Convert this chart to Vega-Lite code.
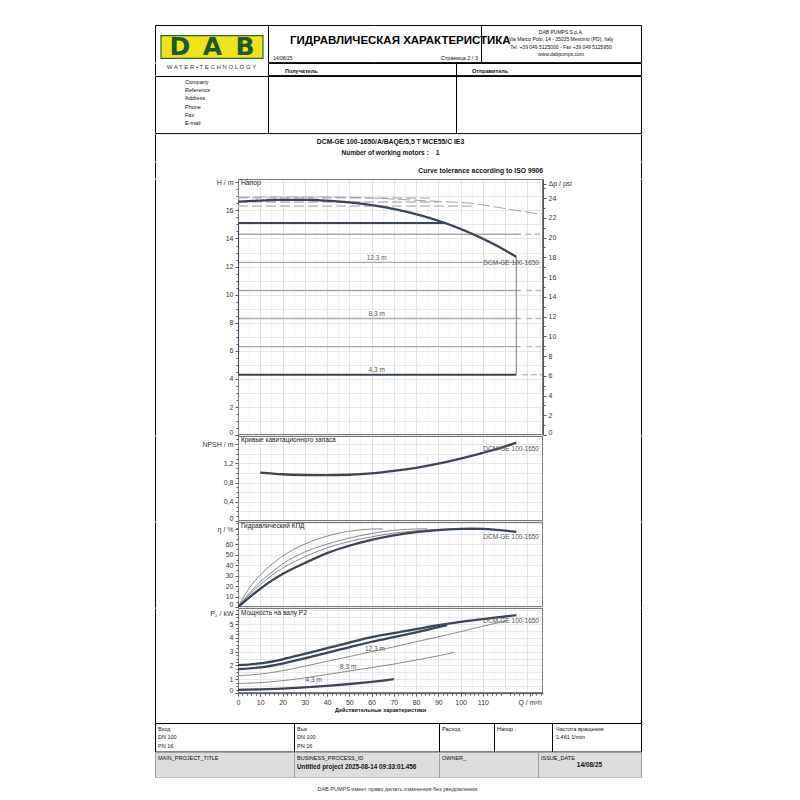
{
"$schema":"https://vega.github.io/schema/vega-lite/v6.json",
"background":"white",
"padding":{"left":154,"top":24,"right":0,"bottom":0},
"spacing":-2,
"bounds":"full",
"config":{
 "font":"Liberation Sans",
 "view":{"stroke":null},
 "axis":{"labelFont":"Liberation Sans","labelFontSize":7,"labelColor":"#333333","tickColor":"#555555","domainColor":"#555555","labelPadding":2,"labelOverlap":false,"labelFlush":false,"labelBound":false,"tickSize":3},
 "title":{"font":"Liberation Sans","color":"#111111","subtitleFont":"Liberation Sans","subtitleColor":"#111111","frame":"group","fontWeight":"normal"},
 "text":{"font":"Liberation Sans"}
},
"datasets":{
 "hSeg":[
  {"s":"g143","k":"sys","Q":0,"v":14.3},{"s":"g143","k":"sys","Q":127,"v":14.3},
  {"s":"g123","k":"sys","Q":0,"v":12.3},{"s":"g123","k":"sys","Q":127,"v":12.3},
  {"s":"g103","k":"sys","Q":0,"v":10.3},{"s":"g103","k":"sys","Q":127,"v":10.3},
  {"s":"g83","k":"sys","Q":0,"v":8.3},{"s":"g83","k":"sys","Q":127,"v":8.3},
  {"s":"g63","k":"sys","Q":0,"v":6.3},{"s":"g63","k":"sys","Q":127,"v":6.3},
  {"s":"d143","k":"ext","Q":129,"v":14.3},{"s":"d143","k":"ext","Q":136.5,"v":14.3},
  {"s":"d123","k":"ext","Q":129,"v":12.3},{"s":"d123","k":"ext","Q":136.5,"v":12.3},
  {"s":"d103","k":"ext","Q":129.5,"v":10.3},{"s":"d103","k":"ext","Q":136.5,"v":10.3},
  {"s":"d83","k":"ext","Q":129.5,"v":8.3},{"s":"d83","k":"ext","Q":136.5,"v":8.3},
  {"s":"d63","k":"ext","Q":129.5,"v":6.3},{"s":"d63","k":"ext","Q":136.5,"v":6.3},
  {"s":"d43","k":"ext","Q":127.5,"v":4.3},{"s":"d43","k":"ext","Q":136.5,"v":4.3},
  {"s":"br","k":"lim","Q":125,"v":4.3},{"s":"br","k":"lim","Q":125,"v":12.69},
  {"s":"bt","k":"op","Q":0,"v":15.1},{"s":"bt","k":"op","Q":93,"v":15.1},
  {"s":"bl","k":"op","Q":0,"v":4.3},{"s":"bl","k":"op","Q":0,"v":15.1},
  {"s":"bb","k":"op","Q":0,"v":4.3},{"s":"bb","k":"op","Q":125,"v":4.3}
 ],
 "hCur":[
  {"s":"tolA","k":"band","Q":0,"v":16.9},{"s":"tolA","k":"band","Q":44,"v":16.9},{"s":"tolA","k":"band","Q":88,"v":16.87},
  {"s":"tolB","k":"band","Q":0,"v":16.6},{"s":"tolB","k":"band","Q":45,"v":16.6},{"s":"tolB","k":"band","Q":90,"v":16.6},
  {"s":"tolC","k":"band","Q":0,"v":16.3},{"s":"tolC","k":"band","Q":52,"v":16.3},{"s":"tolC","k":"band","Q":105,"v":16.3},
  {"s":"tolUp","k":"tol","Q":0,"v":16.93},{"s":"tolUp","k":"tol","Q":20,"v":16.96},{"s":"tolUp","k":"tol","Q":40,"v":16.95},{"s":"tolUp","k":"tol","Q":60,"v":16.88},{"s":"tolUp","k":"tol","Q":73,"v":16.78},{"s":"tolUp","k":"tol","Q":90,"v":16.64},{"s":"tolUp","k":"tol","Q":104,"v":16.52},{"s":"tolUp","k":"tol","Q":120,"v":16.13},{"s":"tolUp","k":"tol","Q":137,"v":15.7},
  {"s":"main","k":"pump","Q":0,"v":16.62},{"s":"main","k":"pump","Q":10,"v":16.7},{"s":"main","k":"pump","Q":20,"v":16.75},{"s":"main","k":"pump","Q":30,"v":16.75},{"s":"main","k":"pump","Q":40,"v":16.69},{"s":"main","k":"pump","Q":50,"v":16.57},{"s":"main","k":"pump","Q":60,"v":16.38},{"s":"main","k":"pump","Q":70,"v":16.1},{"s":"main","k":"pump","Q":80,"v":15.73},{"s":"main","k":"pump","Q":90,"v":15.26},{"s":"main","k":"pump","Q":100,"v":14.68},{"s":"main","k":"pump","Q":110,"v":13.98},{"s":"main","k":"pump","Q":115,"v":13.59},{"s":"main","k":"pump","Q":120,"v":13.16},{"s":"main","k":"pump","Q":125,"v":12.69}
 ],
 "hTitle":[{"Q":1.3,"v":17.95,"t":"Напор"}],
 "hAnn":[{"Q":62.3,"v":12.6,"t":"12,3 m"},{"Q":62.3,"v":8.6,"t":"8,3 m"},{"Q":62.3,"v":4.63,"t":"4,3 m"},{"Q":122.7,"v":12.27,"t":"DCM-GE 100-1650"}],
 "nLine":[
  {"s":"npsh","k":"pump","Q":10,"v":1.01},{"s":"npsh","k":"pump","Q":20,"v":0.975},{"s":"npsh","k":"pump","Q":30,"v":0.96},{"s":"npsh","k":"pump","Q":40,"v":0.955},{"s":"npsh","k":"pump","Q":50,"v":0.965},{"s":"npsh","k":"pump","Q":60,"v":0.995},{"s":"npsh","k":"pump","Q":70,"v":1.045},{"s":"npsh","k":"pump","Q":80,"v":1.11},{"s":"npsh","k":"pump","Q":90,"v":1.195},{"s":"npsh","k":"pump","Q":100,"v":1.3},{"s":"npsh","k":"pump","Q":110,"v":1.42},{"s":"npsh","k":"pump","Q":120,"v":1.555},{"s":"npsh","k":"pump","Q":125,"v":1.635}
 ],
 "nTitle":[{"Q":1.3,"v":1.68,"t":"Кривые кавитационного запаса"}],
 "nAnn":[{"Q":122.7,"v":1.51,"t":"DCM-GE 100-1650"}],
 "eLine":[
  {"s":"e1","k":"part","Q":0,"v":0},{"s":"e1","k":"part","Q":5,"v":18},{"s":"e1","k":"part","Q":10,"v":30.5},{"s":"e1","k":"part","Q":15,"v":40.5},{"s":"e1","k":"part","Q":20,"v":48.5},{"s":"e1","k":"part","Q":25,"v":55},{"s":"e1","k":"part","Q":30,"v":60},{"s":"e1","k":"part","Q":35,"v":64.3},{"s":"e1","k":"part","Q":40,"v":67.6},{"s":"e1","k":"part","Q":45,"v":70.4},{"s":"e1","k":"part","Q":50,"v":72.4},{"s":"e1","k":"part","Q":55,"v":73.7},{"s":"e1","k":"part","Q":60,"v":74.4},{"s":"e1","k":"part","Q":65,"v":74.6},
  {"s":"e2","k":"part","Q":0,"v":0},{"s":"e2","k":"part","Q":5,"v":13},{"s":"e2","k":"part","Q":10,"v":24},{"s":"e2","k":"part","Q":15,"v":33},{"s":"e2","k":"part","Q":20,"v":41},{"s":"e2","k":"part","Q":30,"v":52.5},{"s":"e2","k":"part","Q":40,"v":60},{"s":"e2","k":"part","Q":50,"v":65.8},{"s":"e2","k":"part","Q":60,"v":70.2},{"s":"e2","k":"part","Q":70,"v":73.2},{"s":"e2","k":"part","Q":80,"v":74.5},{"s":"e2","k":"part","Q":85,"v":74.6},
  {"s":"e3","k":"part","Q":0,"v":0},{"s":"e3","k":"part","Q":5,"v":11.5},{"s":"e3","k":"part","Q":10,"v":21.5},{"s":"e3","k":"part","Q":15,"v":30},{"s":"e3","k":"part","Q":20,"v":37},{"s":"e3","k":"part","Q":30,"v":48},{"s":"e3","k":"part","Q":40,"v":56.5},{"s":"e3","k":"part","Q":50,"v":62.5},{"s":"e3","k":"part","Q":60,"v":67},{"s":"e3","k":"part","Q":70,"v":70.5},{"s":"e3","k":"part","Q":80,"v":72.8},{"s":"e3","k":"part","Q":90,"v":74.2},{"s":"e3","k":"part","Q":97,"v":74.6},
  {"s":"em","k":"pump","Q":0,"v":0},{"s":"em","k":"pump","Q":5,"v":9},{"s":"em","k":"pump","Q":10,"v":17.5},{"s":"em","k":"pump","Q":15,"v":25},{"s":"em","k":"pump","Q":20,"v":31.5},{"s":"em","k":"pump","Q":30,"v":42},{"s":"em","k":"pump","Q":40,"v":51.5},{"s":"em","k":"pump","Q":50,"v":58.5},{"s":"em","k":"pump","Q":60,"v":64},{"s":"em","k":"pump","Q":70,"v":68.3},{"s":"em","k":"pump","Q":80,"v":71.4},{"s":"em","k":"pump","Q":90,"v":73.4},{"s":"em","k":"pump","Q":100,"v":74.5},{"s":"em","k":"pump","Q":105,"v":74.7},{"s":"em","k":"pump","Q":110,"v":74.5},{"s":"em","k":"pump","Q":115,"v":73.9},{"s":"em","k":"pump","Q":120,"v":73},{"s":"em","k":"pump","Q":125,"v":71.8}
 ],
 "eTitle":[{"Q":1.3,"v":77.0,"t":"Гидравлический КПД"}],
 "eAnn":[{"Q":122.7,"v":67,"t":"DCM-GE 100-1650"}],
 "pLine":[
  {"s":"p123","k":"part","Q":0,"v":1.26},{"s":"p123","k":"part","Q":10,"v":1.38},{"s":"p123","k":"part","Q":20,"v":1.62},{"s":"p123","k":"part","Q":30,"v":1.95},{"s":"p123","k":"part","Q":40,"v":2.3},{"s":"p123","k":"part","Q":50,"v":2.65},{"s":"p123","k":"part","Q":60,"v":3.0},{"s":"p123","k":"part","Q":70,"v":3.35},{"s":"p123","k":"part","Q":80,"v":3.72},{"s":"p123","k":"part","Q":90,"v":4.08},{"s":"p123","k":"part","Q":100,"v":4.45},{"s":"p123","k":"part","Q":110,"v":4.85},{"s":"p123","k":"part","Q":121,"v":5.25},
  {"s":"p83","k":"part","Q":0,"v":0.7},{"s":"p83","k":"part","Q":10,"v":0.76},{"s":"p83","k":"part","Q":20,"v":0.9},{"s":"p83","k":"part","Q":30,"v":1.1},{"s":"p83","k":"part","Q":40,"v":1.35},{"s":"p83","k":"part","Q":50,"v":1.6},{"s":"p83","k":"part","Q":60,"v":1.85},{"s":"p83","k":"part","Q":70,"v":2.1},{"s":"p83","k":"part","Q":80,"v":2.4},{"s":"p83","k":"part","Q":90,"v":2.7},{"s":"p83","k":"part","Q":97,"v":2.95},
  {"s":"pB","k":"pump","Q":0,"v":1.74},{"s":"pB","k":"pump","Q":10,"v":1.86},{"s":"pB","k":"pump","Q":20,"v":2.14},{"s":"pB","k":"pump","Q":30,"v":2.52},{"s":"pB","k":"pump","Q":40,"v":2.92},{"s":"pB","k":"pump","Q":50,"v":3.32},{"s":"pB","k":"pump","Q":60,"v":3.72},{"s":"pB","k":"pump","Q":70,"v":4.05},{"s":"pB","k":"pump","Q":80,"v":4.4},{"s":"pB","k":"pump","Q":88,"v":4.7},{"s":"pB","k":"pump","Q":94,"v":4.92},
  {"s":"pA","k":"pump","Q":0,"v":2.03},{"s":"pA","k":"pump","Q":10,"v":2.15},{"s":"pA","k":"pump","Q":20,"v":2.45},{"s":"pA","k":"pump","Q":30,"v":2.84},{"s":"pA","k":"pump","Q":40,"v":3.25},{"s":"pA","k":"pump","Q":50,"v":3.66},{"s":"pA","k":"pump","Q":60,"v":4.05},{"s":"pA","k":"pump","Q":70,"v":4.34},{"s":"pA","k":"pump","Q":80,"v":4.63},{"s":"pA","k":"pump","Q":90,"v":4.92},{"s":"pA","k":"pump","Q":100,"v":5.16},{"s":"pA","k":"pump","Q":110,"v":5.36},{"s":"pA","k":"pump","Q":120,"v":5.55},{"s":"pA","k":"pump","Q":125,"v":5.65},
  {"s":"p43","k":"pump","Q":0,"v":0.24},{"s":"p43","k":"pump","Q":10,"v":0.27},{"s":"p43","k":"pump","Q":20,"v":0.33},{"s":"p43","k":"pump","Q":30,"v":0.42},{"s":"p43","k":"pump","Q":40,"v":0.53},{"s":"p43","k":"pump","Q":50,"v":0.66},{"s":"p43","k":"pump","Q":60,"v":0.82},{"s":"p43","k":"pump","Q":70,"v":1.02}
 ],
 "pTitle":[{"Q":1.3,"v":5.8,"t":"Мощность на валу P2"}],
 "pAnn":[{"Q":61.5,"v":3.2,"t":"12,3 m"},{"Q":49.5,"v":1.86,"t":"8,3 m"},{"Q":34,"v":0.94,"t":"4,3 m"},{"Q":122.7,"v":5.24,"t":"DCM-GE 100-1650"}]
},
"vconcat":[
 {"hconcat":[
   {"width":113,"height":37.1,"view":{"stroke":"black","strokeDash":[150.1,113,37.1,0]},
    "title":{"text":"ГИДРАВЛИЧЕСКАЯ ХАРАКТЕРИСТИКА","anchor":"end","align":"left","dx":22,"offset":-21.1,"fontSize":11.5,"fontWeight":"bold","color":"#000000"},
    "resolve":{"scale":{"x":"independent","y":"independent"}},
    "layer":[
     {"data":{"values":[{"b":"DAB"}]},"mark":{"type":"rect","fill":"#f0e21d","stroke":"#236b32","strokeWidth":1.2},
      "encoding":{"x":{"field":"b","type":"nominal","axis":null,"scale":{"paddingInner":0,"paddingOuter":0.054,"align":0.545}},
                  "y":{"field":"b","type":"nominal","axis":null,"scale":{"paddingInner":0,"paddingOuter":0.3208,"align":0.738}}}},
     {"data":{"values":[{"l":"D","r":"logo"},{"l":"A","r":"logo"},{"l":"B","r":"logo"}]},
      "mark":{"type":"text","font":"DejaVu Sans","fontWeight":"bold","fontSize":25,"fill":"#1d5a2a","baseline":"middle"},
      "encoding":{"x":{"field":"l","type":"nominal","sort":null,"axis":null,"scale":{"type":"point","padding":0.738,"align":0.521}},
                  "y":{"field":"r","type":"nominal","axis":null,"scale":{"type":"point","align":0.593}},
                  "text":{"field":"l"}}}
    ]},
   {"width":106,"height":37.1,"data":{"values":[]},"mark":"text","view":{"stroke":"black","strokeDash":[106,37.1,106,37.1]},
    "title":{"text":"14/08/25","anchor":"start","dx":5,"offset":-36.2,"fontSize":5}},
   {"width":107,"height":37.1,"data":{"values":[]},"mark":"text","view":{"stroke":"black","strokeDash":[251.1,37.1]},
    "title":{"text":"Страница 2 / 3","anchor":"end","dx":-3,"offset":-36.4,"fontSize":5.5}},
   {"width":160,"height":37.1,"data":{"values":[]},"mark":"text","view":{"stroke":"black"},
    "title":{"text":["DAB PUMPS S.p.A.","Via Marco Polo, 14 - 35035 Mestrino (PD), Italy","Tel. +39 049 5125000 - Fax +39 049 5125950","www.dabpumps.com"],"anchor":"middle","offset":-31.9,"fontSize":5,"lineHeight":7.3}}
 ],"spacing":0,"bounds":"flush"},
 {"hconcat":[
   {"width":113,"height":12.1,"data":{"values":[]},"mark":"text","view":{"stroke":"black","strokeDash":[0,238.1,12.1,0]},
    "title":{"text":"W A T E R • T E C H N O L O G Y","anchor":"middle","offset":-7.4,"fontSize":6,"color":"#2b3d30"}},
   {"width":188,"height":12.1,"data":{"values":[]},"mark":"text","view":{"stroke":"black"},
    "title":{"text":"Получатель","anchor":"start","dx":17,"offset":-11.6,"fontSize":5.5,"fontWeight":"bold"}},
   {"width":185,"height":12.1,"data":{"values":[]},"mark":"text","view":{"stroke":"black"},
    "title":{"text":"Отправитель","anchor":"start","dx":16,"offset":-11.6,"fontSize":5.5,"fontWeight":"bold"}}
 ],"spacing":0,"bounds":"flush"},
 {"hconcat":[
   {"width":113,"height":57.1,"data":{"values":[]},"mark":"text","view":{"stroke":"black"},
    "title":{"text":["Company","Reference","Address","Phone","Fax","E-mail"],"anchor":"start","dx":30,"offset":-50.9,"fontSize":5.5,"lineHeight":8.3}},
   {"width":188,"height":57.1,"data":{"values":[]},"mark":"text","view":{"stroke":"black"}},
   {"width":185,"height":57.1,"data":{"values":[]},"mark":"text","view":{"stroke":"black"}}
 ],"spacing":0,"bounds":"flush"},
 {"hconcat":[
   {"width":83,"height":27.1,"data":{"values":[]},"mark":"text","view":{"stroke":"black","strokeDash":[0,193.1,27.1,0]}},
   {"width":305,"height":27.1,"data":{"values":[]},"mark":"text",
    "title":{"text":"DCM-GE 100-1650/A/BAQE/5,5 T MCE55/C IE3","subtitle":"Number of working motors :\u00a0\u00a0\u00a0\u00a01","anchor":"middle","offset":-22.7,"fontSize":6.8,"fontWeight":"bold","subtitleFontSize":6.5,"subtitleFontWeight":"bold","subtitlePadding":4.3}},
   {"width":98,"height":27.1,"data":{"values":[]},"mark":"text","view":{"stroke":"black","strokeDash":[0,98,27.1,125.1]}}
 ],"spacing":0,"bounds":"flush"},
 {"hconcat":[
   {"width":83,"height":16.1,"data":{"values":[]},"mark":"text","view":{"stroke":"black","strokeDash":[0,182.1,16.1,0]}},
   {"width":305,"height":16.1,"data":{"values":[]},"mark":"text",
    "title":{"text":"Curve tolerance according to ISO 9906","anchor":"end","offset":-12.4,"fontSize":6.8,"fontWeight":"bold"}},
   {"width":98,"height":16.1,"data":{"values":[]},"mark":"text","view":{"stroke":"black","strokeDash":[0,98,16.1,114.1]}}
 ],"spacing":0,"bounds":"flush"},
 {"hconcat":[
   {"width":83,"height":256.1,"data":{"values":[]},"mark":"text","view":{"stroke":"black","strokeDash":[0,422.1,256.1,0]}},
   {"width":305,"height":256.1,
    "resolve":{"axis":{"x":"independent","y":"independent"}},
    "layer":[
     {"data":{"values":[{"b":1}]},"mark":{"type":"rect","fillOpacity":0,"stroke":"#7a7a7a","strokeWidth":2,"clip":true}},
     {"data":{"name":"hSeg"},"mark":{"type":"line","clip":true},
      "encoding":{
       "x":{"field":"Q","type":"quantitative","scale":{"domain":[0,137],"nice":false,"zero":false},"axis":{"values":[0,10,20,30,40,50,60,70,80,90,100,110,120,130],"grid":true,"gridColor":"#d5d5d5","gridWidth":0.7,"labels":false,"ticks":false,"domain":false,"title":null}},
       "y":{"field":"v","type":"quantitative","scale":{"domain":[0,18.236],"nice":false,"zero":false},"axis":{"values":[0,1,2,3,4,5,6,7,8,9,10,11,12,13,14,15,16,17,18],"grid":true,"gridColor":"#dedede","gridWidth":0.7,"labels":false,"ticks":false,"domain":false,"title":null}},
       "detail":{"field":"s"},
       "color":{"field":"k","type":"nominal","legend":null,"scale":{"domain":["pump","tol","band","op","lim","sys","ext","part"],"range":["#3a4555","#9a9a9a","#c8c8c8","#3a4555","#8c8c8c","#a8a8a8","#bdbdbd","#6b6b6b"]}},
       "strokeWidth":{"field":"k","type":"nominal","legend":null,"scale":{"type":"ordinal","domain":["pump","tol","band","op","lim","sys","ext","part"],"range":[2.3,0.9,1.8,2.1,1.2,1.4,1.4,0.8]}},
       "strokeDash":{"field":"k","type":"nominal","legend":null,"scale":{"type":"ordinal","domain":["pump","tol","band","op","lim","sys","ext","part"],"range":[[1,0],[12,4],[10,4],[1,0],[1,0],[1,0],[6,3],[1,0]]}}
      }},
     {"data":{"name":"hCur"},"mark":{"type":"line","interpolate":"monotone","clip":true},
      "encoding":{
       "x":{"field":"Q","type":"quantitative","axis":{"values":[5,15,25,35,45,55,65,75,85,95,105,115,125,135],"grid":true,"gridColor":"#ececec","gridWidth":0.6,"labels":false,"ticks":false,"domain":false,"title":null}},
       "y":{"field":"v","type":"quantitative","axis":null},
       "detail":{"field":"s"},
       "color":{"field":"k","type":"nominal","legend":null,"scale":{"domain":["pump","tol","band","op","lim","sys","ext","part"],"range":["#3a4555","#9a9a9a","#c8c8c8","#3a4555","#8c8c8c","#a8a8a8","#bdbdbd","#6b6b6b"]}},
       "strokeWidth":{"field":"k","type":"nominal","legend":null,"scale":{"type":"ordinal","domain":["pump","tol","band","op","lim","sys","ext","part"],"range":[2.3,0.9,1.8,2.1,1.2,1.4,1.4,0.8]}},
       "strokeDash":{"field":"k","type":"nominal","legend":null,"scale":{"type":"ordinal","domain":["pump","tol","band","op","lim","sys","ext","part"],"range":[[1,0],[12,4],[10,4],[1,0],[1,0],[1,0],[6,3],[1,0]]}}
      }},
     {"data":{"name":"hTitle"},"mark":{"type":"text","align":"left","baseline":"middle","fontSize":6.8,"fill":"#222222"},
      "encoding":{"x":{"field":"Q","type":"quantitative","axis":null},
                  "y":{"field":"v","type":"quantitative","axis":{"orient":"left","values":[0,2,4,6,8,10,12,14,16,18],"labelExpr":"datum.value >= 18 ? 'H / m' : datum.label","labelFlush":true,"grid":false,"title":null}},
                  "text":{"field":"t"}}},
     {"data":{"name":"hAnn"},"mark":{"type":"text","align":"center","baseline":"middle","fontSize":6.5,"fill":"#555555"},
      "encoding":{"x":{"field":"Q","type":"quantitative","axis":null},
                  "y":{"field":"v","type":"quantitative","axis":{"orient":"left","values":[0.5,1,1.5,2,2.5,3,3.5,4,4.5,5,5.5,6,6.5,7,7.5,8,8.5,9,9.5,10,10.5,11,11.5,12,12.5,13,13.5,14,14.5,15,15.5,16,16.5,17,17.5,18],"labels":false,"tickSize":2,"domain":false,"grid":false,"title":null}},
                  "text":{"field":"t"}}},
     {"data":{"name":"hAnn"},"mark":{"type":"point","opacity":0},
      "encoding":{"x":{"field":"Q","type":"quantitative","axis":null},
                  "y":{"field":"v","type":"quantitative","axis":{"orient":"right","values":[0,1.4062,2.8123,4.2185,5.6247,7.0309,8.437,9.8432,11.2494,12.6555,14.0617,15.4679,16.8741,17.9],"labelExpr":"datum.value > 17.5 ? 'Δp / psi' : format(round(datum.value * 1.4223), 'd')","labelFlush":true,"grid":false,"title":null}}}},
     {"data":{"name":"hAnn"},"mark":{"type":"point","opacity":0},
      "encoding":{"x":{"field":"Q","type":"quantitative","axis":null},
                  "y":{"field":"v","type":"quantitative","axis":{"orient":"right","values":[0.7031,2.1093,3.5155,4.9216,6.3278,7.734,9.1401,10.5463,11.9525,13.3587,14.7648,16.171,17.5772],"labels":false,"tickSize":2,"domain":false,"grid":false,"title":null}}}}
    ]},
   {"width":98,"height":256.1,"data":{"values":[]},"mark":"text","view":{"stroke":"black","strokeDash":[0,98,256.1,354.1]}}
 ],"spacing":0,"bounds":"flush"},
 {"hconcat":[
   {"width":83,"height":85.1,"data":{"values":[]},"mark":"text","view":{"stroke":"black","strokeDash":[0,251.1,85.1,0]}},
   {"width":305,"height":85.1,
    "resolve":{"axis":{"x":"independent","y":"independent"}},
    "layer":[
     {"data":{"values":[{"b":1}]},"mark":{"type":"rect","fillOpacity":0,"stroke":"#7a7a7a","strokeWidth":2,"clip":true}},
     {"data":{"name":"nLine"},"mark":{"type":"line","interpolate":"monotone","clip":true},
      "encoding":{
       "x":{"field":"Q","type":"quantitative","scale":{"domain":[0,137],"nice":false,"zero":false},"axis":{"values":[0,10,20,30,40,50,60,70,80,90,100,110,120,130],"grid":true,"gridColor":"#d5d5d5","gridWidth":0.7,"labels":false,"ticks":false,"domain":false,"title":null}},
       "y":{"field":"v","type":"quantitative","scale":{"domain":[0,1.7713],"nice":false,"zero":false},"axis":{"values":[0,0.2,0.4,0.6,0.8,1,1.2,1.4,1.6],"grid":true,"gridColor":"#dedede","gridWidth":0.7,"labels":false,"ticks":false,"domain":false,"title":null}},
       "detail":{"field":"s"},
       "color":{"field":"k","type":"nominal","legend":null,"scale":{"domain":["pump","tol","band","op","lim","sys","ext","part"],"range":["#3a4555","#9a9a9a","#c8c8c8","#3a4555","#8c8c8c","#a8a8a8","#bdbdbd","#6b6b6b"]}},
       "strokeWidth":{"field":"k","type":"nominal","legend":null,"scale":{"type":"ordinal","domain":["pump","tol","band","op","lim","sys","ext","part"],"range":[2.3,0.9,1.8,2.1,1.2,1.4,1.4,0.8]}}
      }},
     {"data":{"name":"nTitle"},"mark":{"type":"text","align":"left","baseline":"middle","fontSize":6.5,"fill":"#222222"},
      "encoding":{"x":{"field":"Q","type":"quantitative","axis":{"values":[5,15,25,35,45,55,65,75,85,95,105,115,125,135],"grid":true,"gridColor":"#ececec","gridWidth":0.6,"labels":false,"ticks":false,"domain":false,"title":null}},
                  "y":{"field":"v","type":"quantitative","axis":{"orient":"left","values":[0,0.4,0.8,1.2,1.6],"labelExpr":"datum.value > 1.5 ? 'NPSH / m' : (datum.value == 0 ? '0' : replace(format(datum.value, '.1f'), '.', ','))","labelFlush":true,"grid":false,"title":null}},
                  "text":{"field":"t"}}},
     {"data":{"name":"nAnn"},"mark":{"type":"text","align":"center","baseline":"middle","fontSize":6.5,"fill":"#555555"},
      "encoding":{"x":{"field":"Q","type":"quantitative","axis":null},
                  "y":{"field":"v","type":"quantitative","axis":{"orient":"left","values":[0.1,0.2,0.3,0.4,0.5,0.6,0.7,0.8,0.9,1,1.1,1.2,1.3,1.4,1.5,1.6,1.7],"labels":false,"tickSize":2,"domain":false,"grid":false,"title":null}},
                  "text":{"field":"t"}}}
    ]},
   {"width":98,"height":85.1,"data":{"values":[]},"mark":"text","view":{"stroke":"black","strokeDash":[0,98,85.1,183.1]}}
 ],"spacing":0,"bounds":"flush"},
 {"hconcat":[
   {"width":83,"height":85.1,"data":{"values":[]},"mark":"text","view":{"stroke":"black","strokeDash":[0,251.1,85.1,0]}},
   {"width":305,"height":85.1,
    "resolve":{"axis":{"x":"independent","y":"independent"}},
    "layer":[
     {"data":{"values":[{"b":1}]},"mark":{"type":"rect","fillOpacity":0,"stroke":"#7a7a7a","strokeWidth":2,"clip":true}},
     {"data":{"name":"eLine"},"mark":{"type":"line","interpolate":"monotone","clip":true},
      "encoding":{
       "x":{"field":"Q","type":"quantitative","scale":{"domain":[0,137],"nice":false,"zero":false},"axis":{"values":[0,10,20,30,40,50,60,70,80,90,100,110,120,130],"grid":true,"gridColor":"#d5d5d5","gridWidth":0.7,"labels":false,"ticks":false,"domain":false,"title":null}},
       "y":{"field":"v","type":"quantitative","scale":{"domain":[0,81.14],"nice":false,"zero":false},"axis":{"values":[0,10,20,30,40,50,60,70,80],"grid":true,"gridColor":"#dedede","gridWidth":0.7,"labels":false,"ticks":false,"domain":false,"title":null}},
       "detail":{"field":"s"},
       "color":{"field":"k","type":"nominal","legend":null,"scale":{"domain":["pump","tol","band","op","lim","sys","ext","part"],"range":["#3a4555","#9a9a9a","#c8c8c8","#3a4555","#8c8c8c","#a8a8a8","#bdbdbd","#6b6b6b"]}},
       "strokeWidth":{"field":"k","type":"nominal","legend":null,"scale":{"type":"ordinal","domain":["pump","tol","band","op","lim","sys","ext","part"],"range":[2.3,0.9,1.8,2.1,1.2,1.4,1.4,0.8]}}
      }},
     {"data":{"name":"eTitle"},"mark":{"type":"text","align":"left","baseline":"middle","fontSize":6.5,"fill":"#222222"},
      "encoding":{"x":{"field":"Q","type":"quantitative","axis":{"values":[5,15,25,35,45,55,65,75,85,95,105,115,125,135],"grid":true,"gridColor":"#ececec","gridWidth":0.6,"labels":false,"ticks":false,"domain":false,"title":null}},
                  "y":{"field":"v","type":"quantitative","axis":{"orient":"left","values":[0,10,20,30,40,50,60,74],"labelExpr":"datum.value > 70 ? 'η / %' : datum.label","labelFlush":true,"grid":false,"title":null}},
                  "text":{"field":"t"}}},
     {"data":{"name":"eAnn"},"mark":{"type":"text","align":"center","baseline":"middle","fontSize":6.5,"fill":"#555555"},
      "encoding":{"x":{"field":"Q","type":"quantitative","axis":null},
                  "y":{"field":"v","type":"quantitative","axis":{"orient":"left","values":[5,10,15,20,25,30,35,40,45,50,55,60,65,70,75,80],"labels":false,"tickSize":2,"domain":false,"grid":false,"title":null}},
                  "text":{"field":"t"}}}
    ]},
   {"width":98,"height":85.1,"data":{"values":[]},"mark":"text","view":{"stroke":"black","strokeDash":[0,98,85.1,183.1]}}
 ],"spacing":0,"bounds":"flush"},
 {"hconcat":[
   {"width":83,"height":114.5,"data":{"values":[]},"mark":"text","view":{"stroke":"black","strokeDash":[0,280.5,114.5,0]}},
   {"width":305,"height":85.1,
    "title":{"text":"Действительные характеристики","orient":"bottom","anchor":"start","dx":97,"offset":3,"fontSize":5.5,"fontWeight":"bold"},
    "resolve":{"axis":{"x":"independent","y":"independent"}},
    "layer":[
     {"data":{"values":[{"b":1}]},"mark":{"type":"rect","fillOpacity":0,"stroke":"#7a7a7a","strokeWidth":2,"clip":true}},
     {"data":{"name":"pLine"},"mark":{"type":"line","interpolate":"monotone","clip":true},
      "encoding":{
       "x":{"field":"Q","type":"quantitative","scale":{"domain":[0,137],"nice":false,"zero":false},"axis":{"values":[0,10,20,30,40,50,60,70,80,90,100,110,120,130],"grid":true,"gridColor":"#d5d5d5","gridWidth":0.7,"labels":false,"ticks":false,"domain":false,"title":null}},
       "y":{"field":"v","type":"quantitative","scale":{"domain":[0,6.165],"nice":false,"zero":false},"axis":{"values":[0,0.5,1,1.5,2,2.5,3,3.5,4,4.5,5,5.5,6],"grid":true,"gridColor":"#dedede","gridWidth":0.7,"labels":false,"ticks":false,"domain":false,"title":null}},
       "detail":{"field":"s"},
       "color":{"field":"k","type":"nominal","legend":null,"scale":{"domain":["pump","tol","band","op","lim","sys","ext","part"],"range":["#3a4555","#9a9a9a","#c8c8c8","#3a4555","#8c8c8c","#a8a8a8","#bdbdbd","#6b6b6b"]}},
       "strokeWidth":{"field":"k","type":"nominal","legend":null,"scale":{"type":"ordinal","domain":["pump","tol","band","op","lim","sys","ext","part"],"range":[2.3,0.9,1.8,2.1,1.2,1.4,1.4,0.8]}}
      }},
     {"data":{"name":"pTitle"},"mark":{"type":"text","align":"left","baseline":"middle","fontSize":6.5,"fill":"#222222"},
      "encoding":{"x":{"field":"Q","type":"quantitative","axis":{"values":[5,15,25,35,45,55,65,75,85,95,105,115,125,135],"grid":true,"gridColor":"#ececec","gridWidth":0.6,"labels":false,"ticks":false,"domain":false,"title":null}},
                  "y":{"field":"v","type":"quantitative","axis":{"orient":"left","values":[0,1,2,3,4,5,5.75],"labelExpr":"datum.value > 5.5 ? 'P₂ / kW' : datum.label","labelFlush":true,"grid":false,"title":null}},
                  "text":{"field":"t"}}},
     {"data":{"name":"pAnn"},"mark":{"type":"text","align":"center","baseline":"middle","fontSize":6.5,"fill":"#555555"},
      "encoding":{"x":{"field":"Q","type":"quantitative","axis":{"orient":"bottom","values":[0,10,20,30,40,50,60,70,80,90,100,110,131],"labelExpr":"datum.value > 120 ? 'Q / m³h' : datum.label","grid":false,"title":null}},
                  "y":{"field":"v","type":"quantitative","axis":{"orient":"left","values":[0.25,0.5,0.75,1,1.25,1.5,1.75,2,2.25,2.5,2.75,3,3.25,3.5,3.75,4,4.25,4.5,4.75,5,5.25,5.5,5.75,6],"labels":false,"tickSize":2,"domain":false,"grid":false,"title":null}},
                  "text":{"field":"t"}}},
     {"data":{"name":"pAnn"},"mark":{"type":"point","opacity":0},
      "encoding":{"x":{"field":"Q","type":"quantitative","axis":{"orient":"bottom","values":[2,4,6,8,12,14,16,18,22,24,26,28,32,34,36,38,42,44,46,48,52,54,56,58,62,64,66,68,72,74,76,78,82,84,86,88,92,94,96,98,102,104,106,108,112,114,116,118,122,124,126,128,132,134,136],"labels":false,"tickSize":2,"domain":false,"grid":false,"title":null}},
                  "y":{"field":"v","type":"quantitative","axis":null}}}
    ]},
   {"width":98,"height":114.5,"data":{"values":[]},"mark":"text","view":{"stroke":"black","strokeDash":[0,98,114.5,212.5]}}
 ],"spacing":0,"bounds":"flush"},
 {"hconcat":[
   {"width":139,"height":28.5,"data":{"values":[]},"mark":"text","view":{"stroke":"black"},
    "title":{"text":["Вход","DN 100","PN 16"],"anchor":"start","dx":3,"offset":-26.1,"fontSize":5.5,"lineHeight":8.5}},
   {"width":145,"height":28.5,"data":{"values":[]},"mark":"text","view":{"stroke":"black"},
    "title":{"text":["Вых","DN 100","PN 16"],"anchor":"start","dx":3,"offset":-26.1,"fontSize":5.5,"lineHeight":8.5}},
   {"width":55,"height":28.5,"data":{"values":[]},"mark":"text","view":{"stroke":"black"},
    "title":{"text":"Расход :","anchor":"start","dx":3,"offset":-9.1,"fontSize":5.5}},
   {"width":58,"height":28.5,"data":{"values":[]},"mark":"text","view":{"stroke":"black"},
    "title":{"text":"Напор :","anchor":"start","dx":3,"offset":-9.1,"fontSize":5.5}},
   {"width":89,"height":28.5,"data":{"values":[]},"mark":"text","view":{"stroke":"black"},
    "title":{"text":["Частота вращения","1.461 1/min"],"anchor":"start","dx":4,"offset":-17.6,"fontSize":5.5,"lineHeight":8.5}}
 ],"spacing":0,"bounds":"flush"},
 {"hconcat":[
   {"width":139,"height":25.5,"data":{"values":[]},"mark":"text","view":{"stroke":"#9e9e9e","fill":"#dcdcdc"},
    "title":{"text":"MAIN_PROJECT_TITLE","anchor":"start","dx":3,"offset":-9.1,"fontSize":5.5}},
   {"width":145,"height":25.5,"data":{"values":[]},"mark":"text","view":{"stroke":"#9e9e9e","fill":"#dcdcdc"},
    "title":{"text":"BUSINESS_PROCESS_ID","subtitle":"Untitled project 2025-08-14 09:33:01.456","anchor":"start","dx":3,"offset":-18.6,"fontSize":5.5,"subtitleFontSize":6.3,"subtitleFontWeight":"bold","subtitlePadding":3.1}},
   {"width":99,"height":25.5,"data":{"values":[]},"mark":"text","view":{"stroke":"#9e9e9e","fill":"#dcdcdc"},
    "title":{"text":"OWNER_","anchor":"start","dx":3,"offset":-9.1,"fontSize":5.5}},
   {"width":103,"height":25.5,"data":{"values":[{"t":"14/08/25"}]},"mark":{"type":"text","fontSize":6.5,"fontWeight":"bold","fill":"#111111","baseline":"middle"},
    "encoding":{"text":{"field":"t"}},"view":{"stroke":"#9e9e9e","fill":"#dcdcdc"},
    "title":{"text":"ISSUE_DATE","anchor":"start","dx":3,"offset":-9.1,"fontSize":5.5}}
 ],"spacing":0,"bounds":"flush"},
 {"width":486,"height":22,"view":{"stroke":"#ffffff"},"data":{"values":[{"t":"DAB PUMPS имеет право делать изменения без уведомления."}]},
  "mark":{"type":"text","fontSize":5.5,"fill":"#333333"},"encoding":{"text":{"field":"t"}}}
]
}
